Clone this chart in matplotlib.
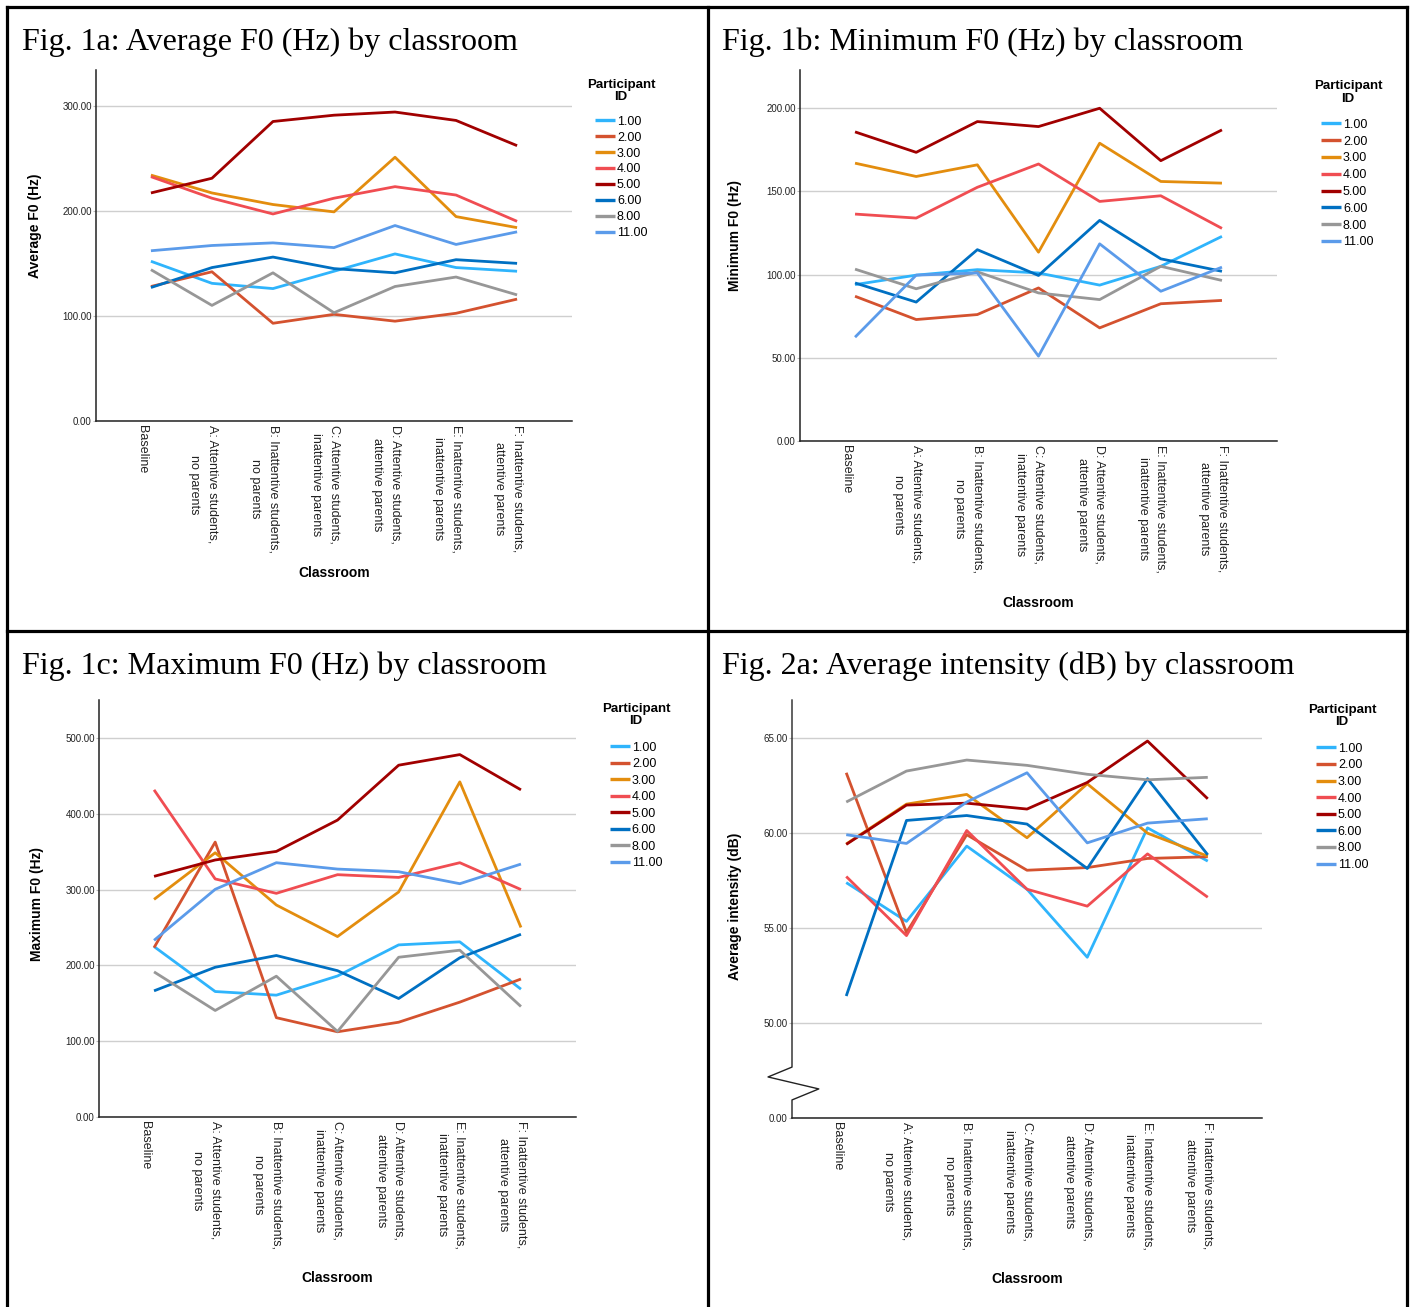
import matplotlib
matplotlib.use("Agg")
import matplotlib.pyplot as plt
from matplotlib.lines import Line2D
from matplotlib.transforms import ScaledTranslation, blended_transform_factory

plt.rcParams["font.family"] = ["Liberation Sans", "DejaVu Sans"]

# categories and participants
classrooms = [
    "Baseline",
    "A: Attentive students,\nno parents",
    "B: Inattentive students,\nno parents",
    "C: Attentive students,\ninattentive parents",
    "D: Attentive students,\nattentive parents",
    "E: Inattentive students,\ninattentive parents",
    "F: Inattentive students,\nattentive parents",
]
participants = ["1.00", "2.00", "3.00", "4.00", "5.00", "6.00", "8.00", "11.00"]
colors = ["#2FB4FC", "#D4522F", "#E38D0E", "#F04D52", "#A10000", "#0070C2", "#979797", "#5B9BEA"]

# Fig. 1a: average F0 (Hz)
avg_f0 = [
    [152, 131, 126, 142.5, 159, 146, 142.5],
    [128, 142, 93, 101.5, 95, 102.5, 116],
    [234, 217, 206, 199, 251, 194.5, 184],
    [232.5, 212, 197, 212, 223, 215, 190],
    [217, 231, 285, 291, 294, 286, 262],
    [127, 146, 156, 145, 141, 153.5, 150],
    [144, 110, 141, 103, 128, 137, 120],
    [162, 167, 169.5, 165, 186, 168, 180],
]

# Fig. 1b: minimum F0 (Hz)
min_f0 = [
    [94, 99.7, 103, 101, 93.7, 105, 123],
    [87, 73, 76, 92, 68, 82.5, 84.5],
    [167, 159, 166, 113.5, 179, 156, 155],
    [136.4, 134, 152.5, 166.5, 144, 147.4, 127.8],
    [185.8, 173.5, 192, 189, 200, 168.5, 187],
    [95, 83.5, 115, 99.5, 132.6, 109.5, 102],
    [103.3, 91.5, 101.7, 89, 85, 105, 96.5],
    [62.4, 99.7, 101, 51, 118.5, 90, 104.5],
]

# Fig. 1c: maximum F0 (Hz)
max_f0 = [
    [224.8, 165.5, 160.7, 186, 227, 231, 168.6],
    [223.4, 362.6, 131, 112.4, 125, 151.5, 182],
    [287, 348.5, 279.6, 238, 296.8, 442, 250],
    [431.5, 314, 295, 319.6, 316, 335.4, 300],
    [317.4, 339, 350.3, 391.6, 464, 478, 431.5],
    [166.4, 197.5, 213, 193, 156.3, 210, 241],
    [191.4, 140.5, 185.7, 112.8, 210.7, 220, 145.7],
    [233, 300.3, 335.4, 327, 323.5, 307.7, 333.6],
]

# Fig. 2a: average intensity (dB)
avg_db = [
    [57.39, 55.35, 59.31, 57.04, 53.46, 60.27, 58.52],
    [63.17, 54.76, 59.91, 58.04, 58.18, 58.66, 58.75],
    [59.42, 61.52, 62.03, 59.75, 62.59, 59.99, 58.78],
    [57.71, 54.60, 60.13, 57.04, 56.15, 58.90, 56.62],
    [59.40, 61.47, 61.57, 61.26, 62.66, 64.84, 61.80],
    [51.42, 60.66, 60.92, 60.47, 58.13, 62.86, 58.85],
    [61.63, 63.26, 63.84, 63.56, 63.09, 62.80, 62.93],
    [59.91, 59.45, 61.63, 63.17, 59.48, 60.52, 60.75],
]

W, H = 1414, 1307
fig = plt.figure(figsize=(W / 100, H / 100), dpi=100)


def fx(px):
    return px / W


def fy(py):
    return 1 - py / H


def panel(title, tx, ty, rect_px, data, ylabel, yticks, yticklabels, ylim,
          ylab_xy, xlab_y, leg):
    left, top, right, bottom = rect_px
    fig.text(fx(tx), fy(ty), title, family="Liberation Serif", fontsize=23,
             ha="left", va="center")
    ax = fig.add_axes([fx(left), fy(bottom), fx(right - left), fy(top) - fy(bottom)])
    x = list(range(len(classrooms)))
    for vals, lab, col in zip(data, participants, colors):
        ax.plot(x, vals, color=col, lw=2.0, label=lab, solid_capstyle="butt")
    ax.set_xlim(-0.9, 6.9)
    ax.set_ylim(*ylim)
    ax.set_yticks(yticks)
    ax.set_yticklabels(yticklabels, fontsize=7, color="#222222")
    ax.set_xticks(x)
    ax.tick_params(axis="x", length=0, pad=3)
    ax.tick_params(axis="y", length=2, width=0.8, color="#BBBBBB", pad=1)
    ax.set_xticklabels(classrooms, rotation=270, fontsize=9, va="top",
                       ha="center", multialignment="center", linespacing=1.7,
                       color="#222222")
    shift = ScaledTranslation(-0.09, 0, fig.dpi_scale_trans)
    for lbl in ax.get_xticklabels():
        lbl.set_transform(lbl.get_transform() + shift)
    ax.grid(axis="y", color="#CFCFCF", lw=1.0)
    ax.set_axisbelow(True)
    for s in ("top", "right"):
        ax.spines[s].set_visible(False)
    for s in ("left", "bottom"):
        ax.spines[s].set_linewidth(1.1)
        ax.spines[s].set_color("#222222")
    ax.set_ylabel(ylabel, fontsize=10, fontweight="bold")
    ax.yaxis.set_label_coords(*ylab_xy)
    ax.set_xlabel("Classroom", fontsize=10, fontweight="bold")
    ax.xaxis.set_label_coords(0.5, xlab_y)
    ax.xaxis.label.set_va("center")

    # legend: title drawn as text, entries as a plain legend
    hx, first_y, pitch, title_x, title_y = leg
    fig.text(fx(title_x), fy(title_y), "Participant\nID", ha="center", va="center",
             multialignment="center", fontsize=9.5, fontweight="bold", linespacing=1.0)
    row = 12.5
    lg = ax.legend(loc="upper left", bbox_to_anchor=(fx(hx), fy(first_y - row / 2)),
                   bbox_transform=fig.transFigure, frameon=False, fontsize=9,
                   handlelength=1.6, handletextpad=0.15,
                   labelspacing=(pitch - row) / row, borderpad=0, borderaxespad=0)
    for h in lg.get_lines():
        h.set_linewidth(2.4)
    return ax


panel("Fig. 1a: Average F0 (Hz) by classroom", 22, 42, (96, 70, 572, 421), avg_f0,
      "Average F0 (Hz)", [0, 100, 200, 300], ["0.00", "100.00", "200.00", "300.00"],
      (0, 334), (-0.113, 0.556), -0.433, (595, 122, 16.4, 621, 91))

panel("Fig. 1b: Minimum F0 (Hz) by classroom", 722, 42, (800, 70, 1277, 441), min_f0,
      "Minimum F0 (Hz)", [0, 50, 100, 150, 200], ["0.00", "50.00", "100.00", "150.00", "200.00"],
      (0, 223), (-0.122, 0.555), -0.437, (1321, 125, 17.3, 1348, 92.5))

panel("Fig. 1c: Maximum F0 (Hz) by classroom", 22, 666, (99, 700, 576, 1117), max_f0,
      "Maximum F0 (Hz)", [0, 100, 200, 300, 400, 500],
      ["0.00", "100.00", "200.00", "300.00", "400.00", "500.00"],
      (0, 550), (-0.115, 0.51), -0.386, (610, 748, 17.0, 636, 715.5))

ax4 = panel("Fig. 2a: Average intensity (dB) by classroom", 722, 666, (792, 700, 1262, 1118),
            avg_db, "Average intensity (dB)", [45, 50, 55, 60, 65],
            ["0.00", "50.00", "55.00", "60.00", "65.00"],
            (45, 67), (-0.106, 0.507), -0.385, (1316, 749, 17.1, 1342, 716))

# broken y axis for Fig. 2a
ax4.spines["left"].set_visible(False)
tr = blended_transform_factory(ax4.transAxes, ax4.transData)
bx = [0, 0, -0.051, 0.057, 0, 0]
by = [67, 47.68, 47.16, 46.53, 45.95, 45]
ax4.add_line(Line2D(bx, by, transform=tr, color="#222222", lw=1.0, clip_on=False))

# table borders
blk = dict(color="black", lw=2.3, transform=fig.transFigure)
fig.add_artist(Line2D([fx(6.5), fx(6.5)], [0, fy(6.5)], **blk))
fig.add_artist(Line2D([fx(6.5), fx(1407)], [fy(6.5), fy(6.5)], **blk))
fig.add_artist(Line2D([fx(1407), fx(1407)], [0, fy(6.5)], **blk))
fig.add_artist(Line2D([fx(707.5), fx(707.5)], [0, fy(6.5)], **blk))
fig.add_artist(Line2D([fx(6.5), fx(1407)], [fy(631), fy(631)], **blk))

fig.savefig("out.png", dpi=100)
